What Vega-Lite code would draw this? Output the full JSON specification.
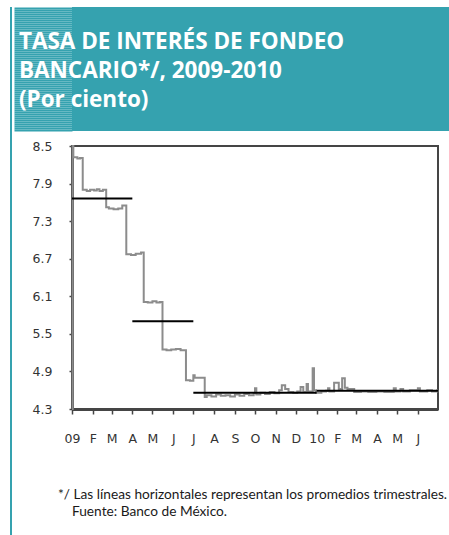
{
  "$schema": "https://vega.github.io/schema/vega-lite/v6.json",
  "background": "white",
  "padding": {"left": 10, "top": 6, "right": 0, "bottom": 0},
  "spacing": 0,
  "hconcat": [
    {
      "width": 2,
      "height": 529,
      "data": {"values": [{"k": 1}]},
      "mark": {"type": "rect", "opacity": 0},
      "view": {"fill": "#35A2AF", "stroke": null}
    },
    {
      "spacing": 7,
      "vconcat": [
        {
          "width": 378,
          "height": 124,
          "data": {"values": [{"k": 62}]},
          "mark": {"type": "point", "opacity": 0},
          "encoding": {
            "y": {
              "field": "k",
              "type": "quantitative",
              "scale": {"domain": [0, 124], "nice": false, "zero": false},
              "axis": {
                "title": null,
                "values": [1, 3, 5, 7, 9, 11, 13, 15, 17, 19, 21, 23, 25, 27, 29, 31, 33, 35, 37, 39, 41, 43, 45, 47, 49, 51, 53, 55, 57, 59, 61, 63, 65, 67, 69, 71, 73, 75, 77, 79, 81, 83, 85, 87, 89, 91, 93, 95, 97, 99, 101, 103, 105, 107, 109, 111, 113, 115, 117, 119, 121, 123],
                "tickCount": 100,
                "labels": false,
                "domain": false,
                "grid": false,
                "ticks": true,
                "tickSize": 58,
                "tickWidth": 2.2,
                "tickColor": "#35A2AF",
                "tickCap": "butt",
                "tickOpacity": 1,
                "minExtent": 0
              }
            }
          },
          "view": {"fill": "#35A2AF", "stroke": null},
          "title": {
            "text": ["TASA DE INTERÉS DE FONDEO", "BANCARIO*/, 2009-2010", "(Por ciento)"],
            "orient": "top",
            "anchor": "start",
            "frame": "bounds",
            "offset": -105,
            "dx": 6,
            "color": "white",
            "font": "Open Sans",
            "fontSize": 22.5,
            "fontWeight": "bold",
            "lineHeight": 29
          }
        },
        {
          "spacing": 0,
          "hconcat": [
            {
              "width": 366,
              "height": 263,
              "view": {"stroke": "#454545", "strokeWidth": 2},
              "title": {
                "text": ["*/ Las líneas horizontales representan los promedios trimestrales.", "\u200b\u00a0\u00a0\u00a0\u00a0Fuente: Banco de México."],
                "orient": "bottom",
                "anchor": "start",
                "frame": "group",
                "offset": 43,
                "dx": -14,
                "color": "#1a1a1a",
                "font": "Lato",
                "fontSize": 13.7,
                "fontWeight": "normal",
                "lineHeight": 17
              },
              "layer": [
                {
                  "data": {"values": [
                    {"date": "2009-01-01", "tasa": 4.3},
                    {"date": "2009-01-02", "tasa": 8.5},
                    {"date": "2009-01-03", "tasa": 8.32},
                    {"date": "2009-01-09", "tasa": 8.30},
                    {"date": "2009-01-13", "tasa": 8.31},
                    {"date": "2009-01-17", "tasa": 7.80},
                    {"date": "2009-01-23", "tasa": 7.78},
                    {"date": "2009-01-28", "tasa": 7.80},
                    {"date": "2009-02-03", "tasa": 7.79},
                    {"date": "2009-02-07", "tasa": 7.81},
                    {"date": "2009-02-11", "tasa": 7.78},
                    {"date": "2009-02-16", "tasa": 7.80},
                    {"date": "2009-02-21", "tasa": 7.52},
                    {"date": "2009-02-25", "tasa": 7.50},
                    {"date": "2009-03-04", "tasa": 7.49},
                    {"date": "2009-03-11", "tasa": 7.50},
                    {"date": "2009-03-17", "tasa": 7.55},
                    {"date": "2009-03-23", "tasa": 6.77},
                    {"date": "2009-03-30", "tasa": 6.76},
                    {"date": "2009-04-06", "tasa": 6.78},
                    {"date": "2009-04-14", "tasa": 6.80},
                    {"date": "2009-04-18", "tasa": 6.01},
                    {"date": "2009-04-24", "tasa": 6.00},
                    {"date": "2009-05-01", "tasa": 6.02},
                    {"date": "2009-05-07", "tasa": 6.00},
                    {"date": "2009-05-12", "tasa": 6.01},
                    {"date": "2009-05-16", "tasa": 5.25},
                    {"date": "2009-05-22", "tasa": 5.24},
                    {"date": "2009-05-29", "tasa": 5.25},
                    {"date": "2009-06-05", "tasa": 5.26},
                    {"date": "2009-06-12", "tasa": 5.24},
                    {"date": "2009-06-20", "tasa": 4.76},
                    {"date": "2009-06-26", "tasa": 4.75},
                    {"date": "2009-07-01", "tasa": 4.84},
                    {"date": "2009-07-03", "tasa": 4.80},
                    {"date": "2009-07-10", "tasa": 4.80},
                    {"date": "2009-07-18", "tasa": 4.49},
                    {"date": "2009-07-21", "tasa": 4.52},
                    {"date": "2009-07-28", "tasa": 4.50},
                    {"date": "2009-08-04", "tasa": 4.53},
                    {"date": "2009-08-11", "tasa": 4.51},
                    {"date": "2009-08-18", "tasa": 4.52},
                    {"date": "2009-08-25", "tasa": 4.50},
                    {"date": "2009-09-01", "tasa": 4.53},
                    {"date": "2009-09-08", "tasa": 4.51},
                    {"date": "2009-09-15", "tasa": 4.54},
                    {"date": "2009-09-22", "tasa": 4.52},
                    {"date": "2009-09-29", "tasa": 4.55},
                    {"date": "2009-10-01", "tasa": 4.63},
                    {"date": "2009-10-03", "tasa": 4.53},
                    {"date": "2009-10-09", "tasa": 4.56},
                    {"date": "2009-10-16", "tasa": 4.54},
                    {"date": "2009-10-23", "tasa": 4.57},
                    {"date": "2009-10-30", "tasa": 4.55},
                    {"date": "2009-11-06", "tasa": 4.60},
                    {"date": "2009-11-10", "tasa": 4.68},
                    {"date": "2009-11-15", "tasa": 4.62},
                    {"date": "2009-11-20", "tasa": 4.57},
                    {"date": "2009-11-27", "tasa": 4.56},
                    {"date": "2009-12-03", "tasa": 4.58},
                    {"date": "2009-12-08", "tasa": 4.65},
                    {"date": "2009-12-12", "tasa": 4.57},
                    {"date": "2009-12-17", "tasa": 4.70},
                    {"date": "2009-12-19", "tasa": 4.58},
                    {"date": "2009-12-26", "tasa": 4.95},
                    {"date": "2009-12-28", "tasa": 4.60},
                    {"date": "2009-12-31", "tasa": 4.56},
                    {"date": "2010-01-08", "tasa": 4.58},
                    {"date": "2010-01-15", "tasa": 4.59},
                    {"date": "2010-01-18", "tasa": 4.63},
                    {"date": "2010-01-20", "tasa": 4.58},
                    {"date": "2010-01-27", "tasa": 4.72},
                    {"date": "2010-02-03", "tasa": 4.62},
                    {"date": "2010-02-08", "tasa": 4.79},
                    {"date": "2010-02-12", "tasa": 4.64},
                    {"date": "2010-02-16", "tasa": 4.62},
                    {"date": "2010-02-26", "tasa": 4.57},
                    {"date": "2010-03-08", "tasa": 4.58},
                    {"date": "2010-03-19", "tasa": 4.57},
                    {"date": "2010-03-31", "tasa": 4.58},
                    {"date": "2010-04-12", "tasa": 4.57},
                    {"date": "2010-04-26", "tasa": 4.63},
                    {"date": "2010-04-29", "tasa": 4.58},
                    {"date": "2010-05-06", "tasa": 4.62},
                    {"date": "2010-05-10", "tasa": 4.58},
                    {"date": "2010-05-20", "tasa": 4.60},
                    {"date": "2010-06-01", "tasa": 4.63},
                    {"date": "2010-06-04", "tasa": 4.58},
                    {"date": "2010-06-15", "tasa": 4.60},
                    {"date": "2010-06-22", "tasa": 4.58},
                    {"date": "2010-06-30", "tasa": 4.60},
                    {"date": "2010-07-01", "tasa": 4.60}
                  ]},
                  "mark": {"type": "line", "interpolate": "step-after", "color": "#8c8c8c", "strokeWidth": 2},
                  "encoding": {
                    "x": {
                      "field": "date",
                      "type": "temporal",
                      "scale": {"type": "utc", "domain": [{"year": 2009, "month": 1, "date": 1, "utc": true}, {"year": 2010, "month": 7, "date": 1, "utc": true}]},
                      "axis": {
                        "title": null,
                        "grid": false,
                        "tickCount": 40,
                        "values": [
                          {"year": 2009, "month": 1, "date": 1, "utc": true},
                          {"year": 2009, "month": 2, "date": 1, "utc": true},
                          {"year": 2009, "month": 3, "date": 1, "utc": true},
                          {"year": 2009, "month": 4, "date": 1, "utc": true},
                          {"year": 2009, "month": 5, "date": 1, "utc": true},
                          {"year": 2009, "month": 6, "date": 1, "utc": true},
                          {"year": 2009, "month": 7, "date": 1, "utc": true},
                          {"year": 2009, "month": 8, "date": 1, "utc": true},
                          {"year": 2009, "month": 9, "date": 1, "utc": true},
                          {"year": 2009, "month": 10, "date": 1, "utc": true},
                          {"year": 2009, "month": 11, "date": 1, "utc": true},
                          {"year": 2009, "month": 12, "date": 1, "utc": true},
                          {"year": 2010, "month": 1, "date": 1, "utc": true},
                          {"year": 2010, "month": 2, "date": 1, "utc": true},
                          {"year": 2010, "month": 3, "date": 1, "utc": true},
                          {"year": 2010, "month": 4, "date": 1, "utc": true},
                          {"year": 2010, "month": 5, "date": 1, "utc": true},
                          {"year": 2010, "month": 6, "date": 1, "utc": true}
                        ],
                        "labelExpr": "utcmonth(datum.value) == 0 ? (utcyear(datum.value) == 2009 ? '09' : '10') : ['E','F','M','A','M','J','J','A','S','O','N','D'][utcmonth(datum.value)]",
                        "labelFlush": false,
                        "labelOverlap": false,
                        "labelFont": "DejaVu Sans",
                        "labelFontSize": 12.5,
                        "labelColor": "#333333",
                        "labelPadding": 18,
                        "tickSize": 5,
                        "tickColor": "#454545",
                        "tickWidth": 1.5,
                        "domainColor": "#454545",
                        "domainWidth": 3
                      }
                    },
                    "y": {
                      "field": "tasa",
                      "type": "quantitative",
                      "scale": {"domain": [4.3, 8.5], "zero": false, "nice": false},
                      "axis": {
                        "title": null,
                        "grid": false,
                        "tickCount": 20,
                        "values": [4.3, 4.9, 5.5, 6.1, 6.7, 7.3, 7.9, 8.5],
                        "format": ".1f",
                        "labelOverlap": false,
                        "labelFont": "DejaVu Sans",
                        "labelFontSize": 12.5,
                        "labelColor": "#333333",
                        "labelPadding": 17,
                        "tickSize": 3,
                        "tickColor": "#454545",
                        "tickWidth": 1.5,
                        "domainColor": "#454545",
                        "domainWidth": 3,
                        "minExtent": 59
                      }
                    }
                  }
                },
                {
                  "data": {"values": [
                    {"inicio": "2009-01-01", "fin": "2009-04-01", "promedio": 7.66},
                    {"inicio": "2009-04-01", "fin": "2009-07-01", "promedio": 5.70},
                    {"inicio": "2009-07-01", "fin": "2009-10-01", "promedio": 4.56},
                    {"inicio": "2009-10-01", "fin": "2010-01-01", "promedio": 4.56},
                    {"inicio": "2010-01-01", "fin": "2010-04-01", "promedio": 4.59},
                    {"inicio": "2010-04-01", "fin": "2010-07-01", "promedio": 4.59}
                  ]},
                  "mark": {"type": "rule", "color": "black", "strokeWidth": 2},
                  "encoding": {
                    "x": {"field": "inicio", "type": "temporal"},
                    "x2": {"field": "fin"},
                    "y": {"field": "promedio", "type": "quantitative"}
                  }
                }
              ]
            }
          ]
        }
      ]
    }
  ]
}
